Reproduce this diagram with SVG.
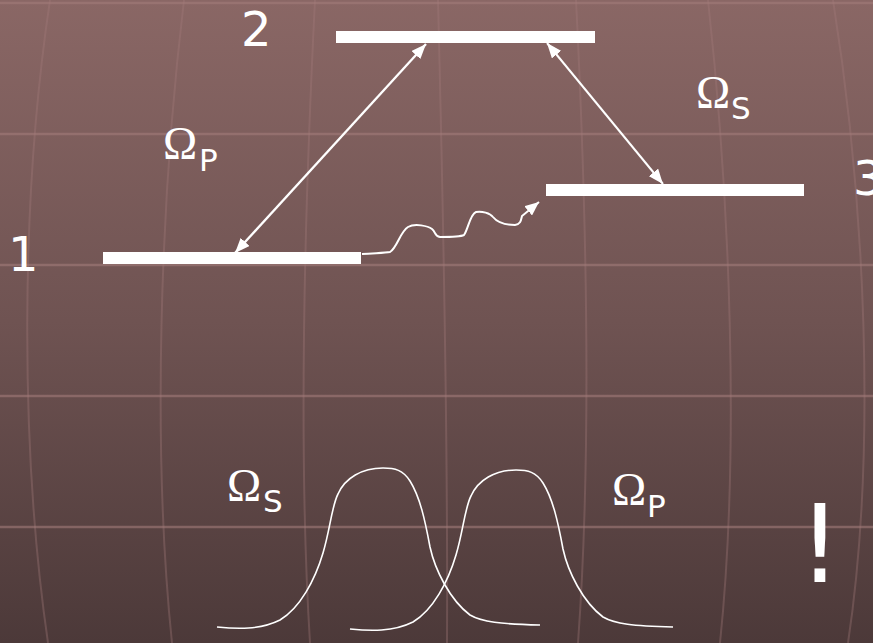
<svg xmlns="http://www.w3.org/2000/svg" width="873" height="643" viewBox="0 0 873 643">
  <defs>
    <linearGradient id="bg" x1="0" y1="0" x2="0" y2="1">
      <stop offset="0" stop-color="#8a6765"/>
      <stop offset="0.5" stop-color="#6f5352"/>
      <stop offset="1" stop-color="#4c3939"/>
    </linearGradient>
    <marker id="head" viewBox="0 0 15 12" refX="15" refY="6" markerWidth="15" markerHeight="12" markerUnits="userSpaceOnUse" orient="auto-start-reverse">
      <path d="M0,0 L15,6 L0,12 z" fill="#ffffff"/>
    </marker>
    <marker id="headSmall" viewBox="0 0 14 12" refX="14" refY="6" markerWidth="14" markerHeight="12" markerUnits="userSpaceOnUse" orient="auto">
      <path d="M0,0 L14,6 L0,12 z" fill="#ffffff"/>
    </marker>
  </defs>
  <style>
    .hgrid { stroke: #a27c7a; stroke-opacity: 0.6; stroke-width: 2.5; fill: none; }
    .vgrid { stroke: #a27c7a; stroke-opacity: 0.35; stroke-width: 2; fill: none; }
    .level { fill: #ffffff; }
    .num { font-family: "DejaVu Sans", Verdana, sans-serif; font-size: 48px; fill: #ffffff; }
    .omega { font-family: "Liberation Serif", "Times New Roman", serif; font-size: 46px; fill: #ffffff; }
    .sub { font-family: "DejaVu Sans", Verdana, sans-serif; font-size: 31px; fill: #ffffff; }
    .arrow { stroke: #ffffff; fill: none; }
    .pulse { stroke: #ffffff; stroke-width: 1.6; fill: none; }
  </style>

  <rect x="0" y="0" width="873" height="643" fill="url(#bg)"/>

  <g id="grid">
    <line class="hgrid" x1="0" y1="3" x2="873" y2="3"/>
    <line class="hgrid" x1="0" y1="134" x2="873" y2="134"/>
    <line class="hgrid" x1="0" y1="265" x2="873" y2="265"/>
    <line class="hgrid" x1="0" y1="396" x2="873" y2="396"/>
    <line class="hgrid" x1="0" y1="527" x2="873" y2="527"/>
    <path class="vgrid" d="M50,0 C20,200 20,450 48,643"/>
    <path class="vgrid" d="M184,0 C160,200 152,450 172,643"/>
    <path class="vgrid" d="M315,0 C305,200 298,450 310,643"/>
    <path class="vgrid" d="M438,0 C443,200 448,450 447,643"/>
    <path class="vgrid" d="M576,0 C586,200 592,450 578,643"/>
    <path class="vgrid" d="M708,0 C730,200 740,450 720,643"/>
    <path class="vgrid" d="M833,0 C865,200 877,450 848,643"/>
  </g>

  <g id="level1">
    <rect class="level" x="103" y="252" width="258" height="12"/>
    <text class="num" x="8" y="271">1</text>
  </g>
  <g id="level2">
    <rect class="level" x="336" y="31" width="259" height="12"/>
    <text class="num" x="241" y="46">2</text>
  </g>
  <g id="level3">
    <rect class="level" x="546" y="184" width="258" height="12"/>
    <text class="num" x="853" y="195">3</text>
  </g>

  <g id="connectors">
    <line class="arrow" stroke-width="2.3" x1="235" y1="253" x2="426" y2="44" marker-start="url(#head)" marker-end="url(#head)"/>
    <line class="arrow" stroke-width="2" x1="547" y1="43" x2="663" y2="184" marker-start="url(#head)" marker-end="url(#head)"/>
    <path class="arrow" stroke-width="2" d="M362,254 C375,253 385,253 390,252 C397,248 400,232 408,227 C415,223 428,226 432,229 C436,232 434,236 440,237 C450,237 460,237 464,235 C468,230 470,214 476,212 C482,211 490,213 493,217 C497,222 505,225 515,225 C521,224 521,220 522,216 L539,202" marker-end="url(#headSmall)"/>
  </g>

  <g id="label-omega-p-top">
    <text class="omega" x="163" y="159">Ω</text>
    <text class="sub" x="199" y="171">P</text>
  </g>
  <g id="label-omega-s-top">
    <text class="omega" x="696" y="108">Ω</text>
    <text class="sub" x="731" y="119">S</text>
  </g>

  <g id="pulse-s">
    <path class="pulse" d="M217,627 C237,629 260,630 280,620 C300,608 315,580 323,553 C330,530 332,505 338,494 C345,478 362,468 383,468 C395,468 403,470 410,481 C420,497 425,520 430,547 C435,570 450,600 470,615 C482,622 500,624 540,625"/>
    <text class="omega" x="227" y="501">Ω</text>
    <text class="sub" x="263" y="512">S</text>
  </g>
  <g id="pulse-p">
    <path class="pulse" transform="translate(133,2)" d="M217,627 C237,629 260,630 280,620 C300,608 315,580 323,553 C330,530 332,505 338,494 C345,478 362,468 383,468 C395,468 403,470 410,481 C420,497 425,520 430,547 C435,570 450,600 470,615 C482,622 500,624 540,625"/>
    <text class="omega" x="612" y="505">Ω</text>
    <text class="sub" x="647" y="517">P</text>
  </g>

  <g id="exclamation">
    <text x="820" y="582" text-anchor="middle" font-family="DejaVu Sans, Verdana, sans-serif" font-size="108" fill="#ffffff">!</text>
  </g>
</svg>
